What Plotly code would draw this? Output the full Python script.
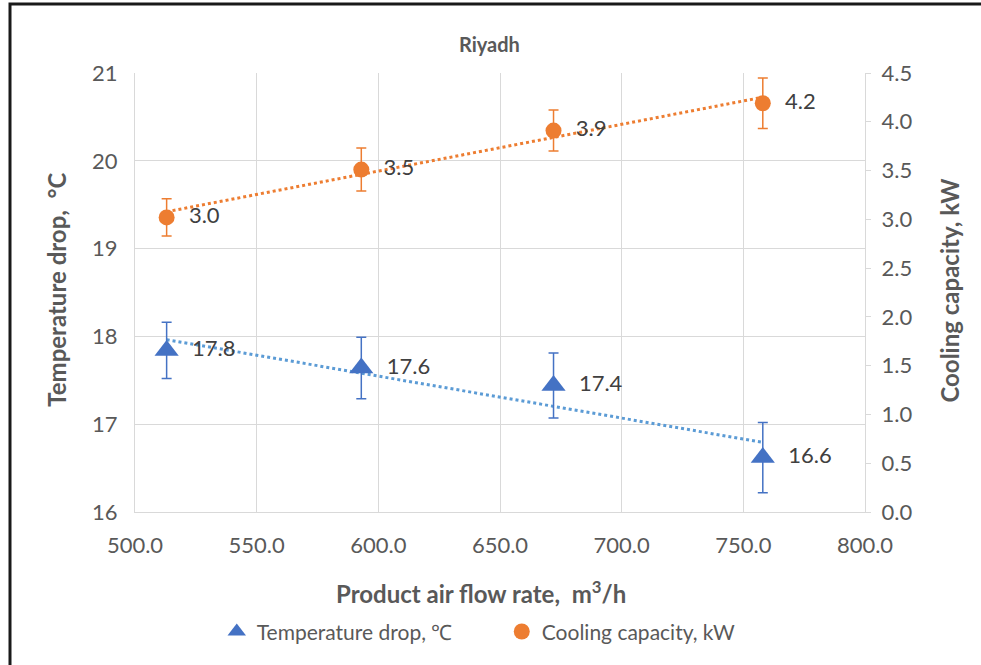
import numpy as np
import plotly.graph_objects as go

# ---- data ----
flow_rate = [513, 593, 672, 758]                 # m3/h
temp_drop = [17.84, 17.64, 17.44, 16.62]         # degC
temp_err = [0.32, 0.35, 0.37, 0.40]
cooling_cap = [3.02, 3.51, 3.91, 4.19]           # kW
cool_err = [0.19, 0.22, 0.21, 0.26]
x_ticks = [500, 550, 600, 650, 700, 750, 800]
y_left_ticks = [16, 17, 18, 19, 20, 21]
y_right_ticks = [0, 0.5, 1.0, 1.5, 2.0, 2.5, 3.0, 3.5, 4.0, 4.5]

BLUE = "#4472C4"
BLUE_TREND = "#5B9BD5"
ORANGE = "#ED7D31"
GRID = "#D9D9D9"
TXT = "#595959"
FONT = "Lato"

fig = go.Figure()

# trendlines (linear fits)
xs = np.array([min(flow_rate), max(flow_rate)], dtype=float)
pt = np.polyfit(flow_rate, temp_drop, 1)
pc = np.polyfit(flow_rate, cooling_cap, 1)
fig.add_trace(go.Scatter(x=xs, y=np.polyval(pt, xs), mode="lines",
                         line=dict(color=BLUE_TREND, width=3, dash="dot"),
                         showlegend=False, hoverinfo="skip", yaxis="y"))
fig.add_trace(go.Scatter(x=xs, y=np.polyval(pc, xs), mode="lines",
                         line=dict(color=ORANGE, width=3, dash="dot"),
                         showlegend=False, hoverinfo="skip", yaxis="y2"))

fig.add_trace(go.Scatter(
    x=flow_rate, y=temp_drop, mode="markers+text", name="Temperature drop, ℃",
    text=[f"  {v:.1f}" for v in temp_drop], textposition="middle right",
    textfont=dict(family=FONT, size=22, color="#404040"),
    marker=dict(symbol="triangle-up", size=21, color=BLUE),
    error_y=dict(type="data", array=temp_err, color=BLUE, thickness=1.5, width=5),
    yaxis="y"))
fig.add_trace(go.Scatter(
    x=flow_rate, y=cooling_cap, mode="markers+text", name="Cooling capacity, kW",
    text=[f"  {v:.1f}" for v in cooling_cap], textposition="middle right",
    textfont=dict(family=FONT, size=22, color="#404040"),
    marker=dict(symbol="circle", size=16, color=ORANGE),
    error_y=dict(type="data", array=cool_err, color=ORANGE, thickness=1.5, width=5),
    yaxis="y2"))

fig.update_layout(
    width=981, height=665,
    margin=dict(l=135, r=116, t=73, b=153),
    paper_bgcolor="white", plot_bgcolor="white",
    font=dict(family=FONT, color=TXT, size=20),
    xaxis=dict(range=[500, 800], tickvals=x_ticks,
               ticktext=[f"{v:.1f}" for v in x_ticks],
               showgrid=True, gridcolor=GRID, gridwidth=1.3,
               showline=True, linecolor=GRID, linewidth=1.3,
               zeroline=False, ticks="", ticklabelstandoff=13,
               tickfont=dict(size=22, color=TXT)),
    yaxis=dict(range=[16, 21], tickvals=y_left_ticks,
               showgrid=True, gridcolor=GRID, gridwidth=1.3,
               showline=True, linecolor=GRID, linewidth=1.3,
               zeroline=False, ticks="", ticklabelstandoff=12,
               tickfont=dict(size=22, color=TXT)),
    yaxis2=dict(range=[0, 4.5], tickvals=y_right_ticks,
                ticktext=[f"{v:.1f}" for v in y_right_ticks],
                overlaying="y", side="right", showgrid=False,
                showline=True, linecolor=GRID, linewidth=1.3,
                ticks="outside", ticklen=5, tickcolor=GRID,
                ticklabelstandoff=6,
                zeroline=False, tickfont=dict(size=22, color=TXT)),
    legend=dict(orientation="h", x=0.112, xanchor="left", y=-0.273,
                yanchor="middle", font=dict(size=21, color=TXT),
                entrywidth=240, entrywidthmode="pixels",
                bgcolor="rgba(0,0,0,0)", itemsizing="trace"),
    showlegend=True,
)

ann = dict(xref="paper", yref="paper", showarrow=False, xanchor="center", yanchor="middle")
fig.add_annotation(text="<b>Riyadh</b>", x=0.486, y=1.066, font=dict(size=20, color=TXT), **ann)
fig.add_annotation(text="<b>Product air flow rate,  m<sup>3</sup>/h</b>", x=0.474, y=-0.182,
                   font=dict(size=24, color=TXT), **ann)
fig.add_annotation(text="<b>Temperature drop,  °C</b>", x=-0.107, y=0.506, textangle=-90,
                   font=dict(size=24, color=TXT), **ann)
fig.add_annotation(text="<b>Cooling capacity, kW</b>", x=1.116, y=0.506, textangle=-90,
                   font=dict(size=24, color=TXT), **ann)

# outer frame
fig.add_shape(type="rect", xref="paper", yref="paper",
              x0=(10 - 135) / 730, x1=1.3, y0=-0.6, y1=(512 - 4) / 439,
              line=dict(color="#1a1a1a", width=3), layer="below")

fig.write_html("out.html")
